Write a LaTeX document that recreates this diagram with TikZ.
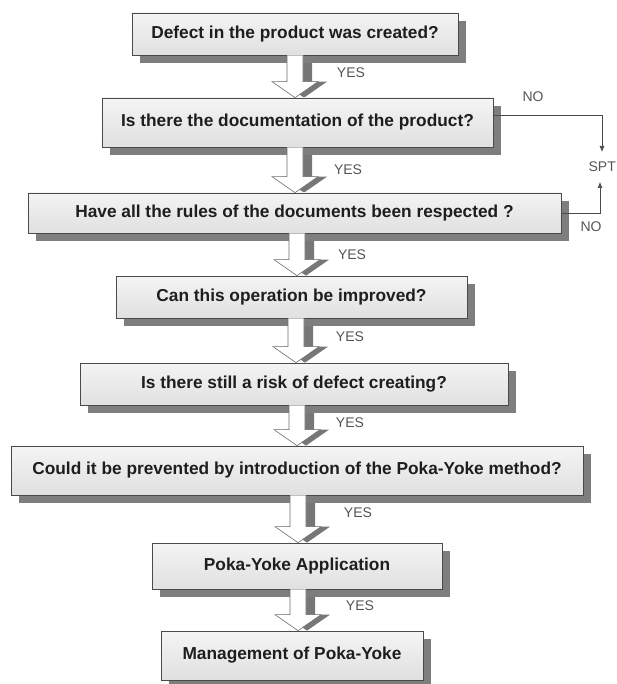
\documentclass[tikz,border=0pt]{standalone}
\usepackage{fontspec}
\setmainfont{Liberation Sans}
\usetikzlibrary{calc,shadows,arrows.meta}
\definecolor{boxtop}{HTML}{F4F4F4}
\definecolor{boxbot}{HTML}{E0E0E0}
\definecolor{boxline}{HTML}{4A4A4A}
\definecolor{shadowc}{HTML}{7E7E7E}
\definecolor{textc}{HTML}{1E1E1E}
\definecolor{labelc}{HTML}{555555}
\definecolor{arrline}{HTML}{6E6E6E}
\definecolor{arrshadow}{HTML}{777777}
\pgfdeclarelayer{bg}
\pgfsetlayers{bg,main}
\tikzset{
  qbox/.style={draw=boxline, line width=0.7pt, top color=boxtop, bottom color=boxbot,
    inner sep=0pt, text=textc, font=\bfseries\fontsize{17.3}{20}\selectfont,
    drop shadow={shadow xshift=8pt, shadow yshift=-8pt, fill=shadowc, opacity=1}},
  lbl/.style={text=labelc, font=\fontsize{14}{16}\selectfont, inner sep=0pt},
  noline/.style={draw=boxline, line width=0.7pt, -{Latex[length=6pt,width=5pt]}},
  arrbody/.style={draw=arrline, line width=0.6pt, fill=white},
  arrshad/.style={fill=arrshadow}
}
\newcommand{\blockarrow}[3]{%
  \begin{pgfonlayer}{bg}
  \fill[arrshad, xshift=9pt, yshift=-5pt] let \p1=(#1.south), \p2=(#2.north) in
    ({#3pt-8pt},{\y1+8pt}) -- ({#3pt-8pt},{\y2+16pt}) -- ({#3pt-23pt},{\y2+16pt}) --
    ({#3pt},{\y2}) -- ({#3pt+23pt},{\y2+16pt}) -- ({#3pt+8pt},{\y2+16pt}) --
    ({#3pt+8pt},{\y1+8pt}) -- cycle;
  \end{pgfonlayer}
  \draw[arrbody] let \p1=(#1.south), \p2=(#2.north) in
    ({#3pt-8pt},{\y1}) -- ({#3pt-8pt},{\y2+16pt}) -- ({#3pt-23pt},{\y2+16pt}) --
    ({#3pt},{\y2}) -- ({#3pt+23pt},{\y2+16pt}) -- ({#3pt+8pt},{\y2+16pt}) --
    ({#3pt+8pt},{\y1});
}
\begin{document}
\begin{tikzpicture}[x=1pt,y=-1pt]
\useasboundingbox (0,0) rectangle (617,684);
\node[qbox, minimum width=326pt, minimum height=42pt] (b1) at (295,34) {Defect in the product was created?};
\node[qbox, minimum width=391pt, minimum height=49pt] (b2) at (297.5,122.5) {Is there the documentation of the product?};
\node[qbox, minimum width=533pt, minimum height=40pt] (b3) at (294.5,213) {Have all the rules of the documents been respected ?};
\node[qbox, minimum width=351pt, minimum height=42pt] (b4) at (291.5,297) {Can this operation be improved?};
\node[qbox, minimum width=428pt, minimum height=42pt] (b5) at (294,384) {Is there still a risk of defect creating?};
\node[qbox, minimum width=572pt, minimum height=49pt] (b6) at (297,470.5) {Could it be prevented by introduction of the Poka-Yoke method?};
\node[qbox, minimum width=290pt, minimum height=46pt] (b7) at (297,566) {Poka-Yoke Application};
\node[qbox, minimum width=262pt, minimum height=49pt] (b8) at (292,655.5) {Management of Poka-Yoke};

\blockarrow{b1}{b2}{295}
\blockarrow{b2}{b3}{295}
\blockarrow{b3}{b4}{297}
\blockarrow{b4}{b5}{296}
\blockarrow{b5}{b6}{297}
\blockarrow{b6}{b7}{298}
\blockarrow{b7}{b8}{298}

\node[lbl] (y1) at (351,73) {YES};
\node[lbl] (y2) at (348,170) {YES};
\node[lbl] (y3) at (352,255) {YES};
\node[lbl] (y4) at (350,337) {YES};
\node[lbl] (y5) at (350,423) {YES};
\node[lbl] (y6) at (358,513) {YES};
\node[lbl] (y7) at (360,606) {YES};

\node[lbl] (no1) at (533,97) {NO};
\node[lbl] (no2) at (591,227) {NO};
\node[lbl, anchor=east] (spt) at (616,167) {SPT};
\coordinate (nt) at (602,152);
\coordinate (nb) at (600,182);
\draw[noline] ([yshift=7pt]b2.east) -| (nt);
\draw[noline] (b3.east) -| (nb);
\end{tikzpicture}
\end{document}
